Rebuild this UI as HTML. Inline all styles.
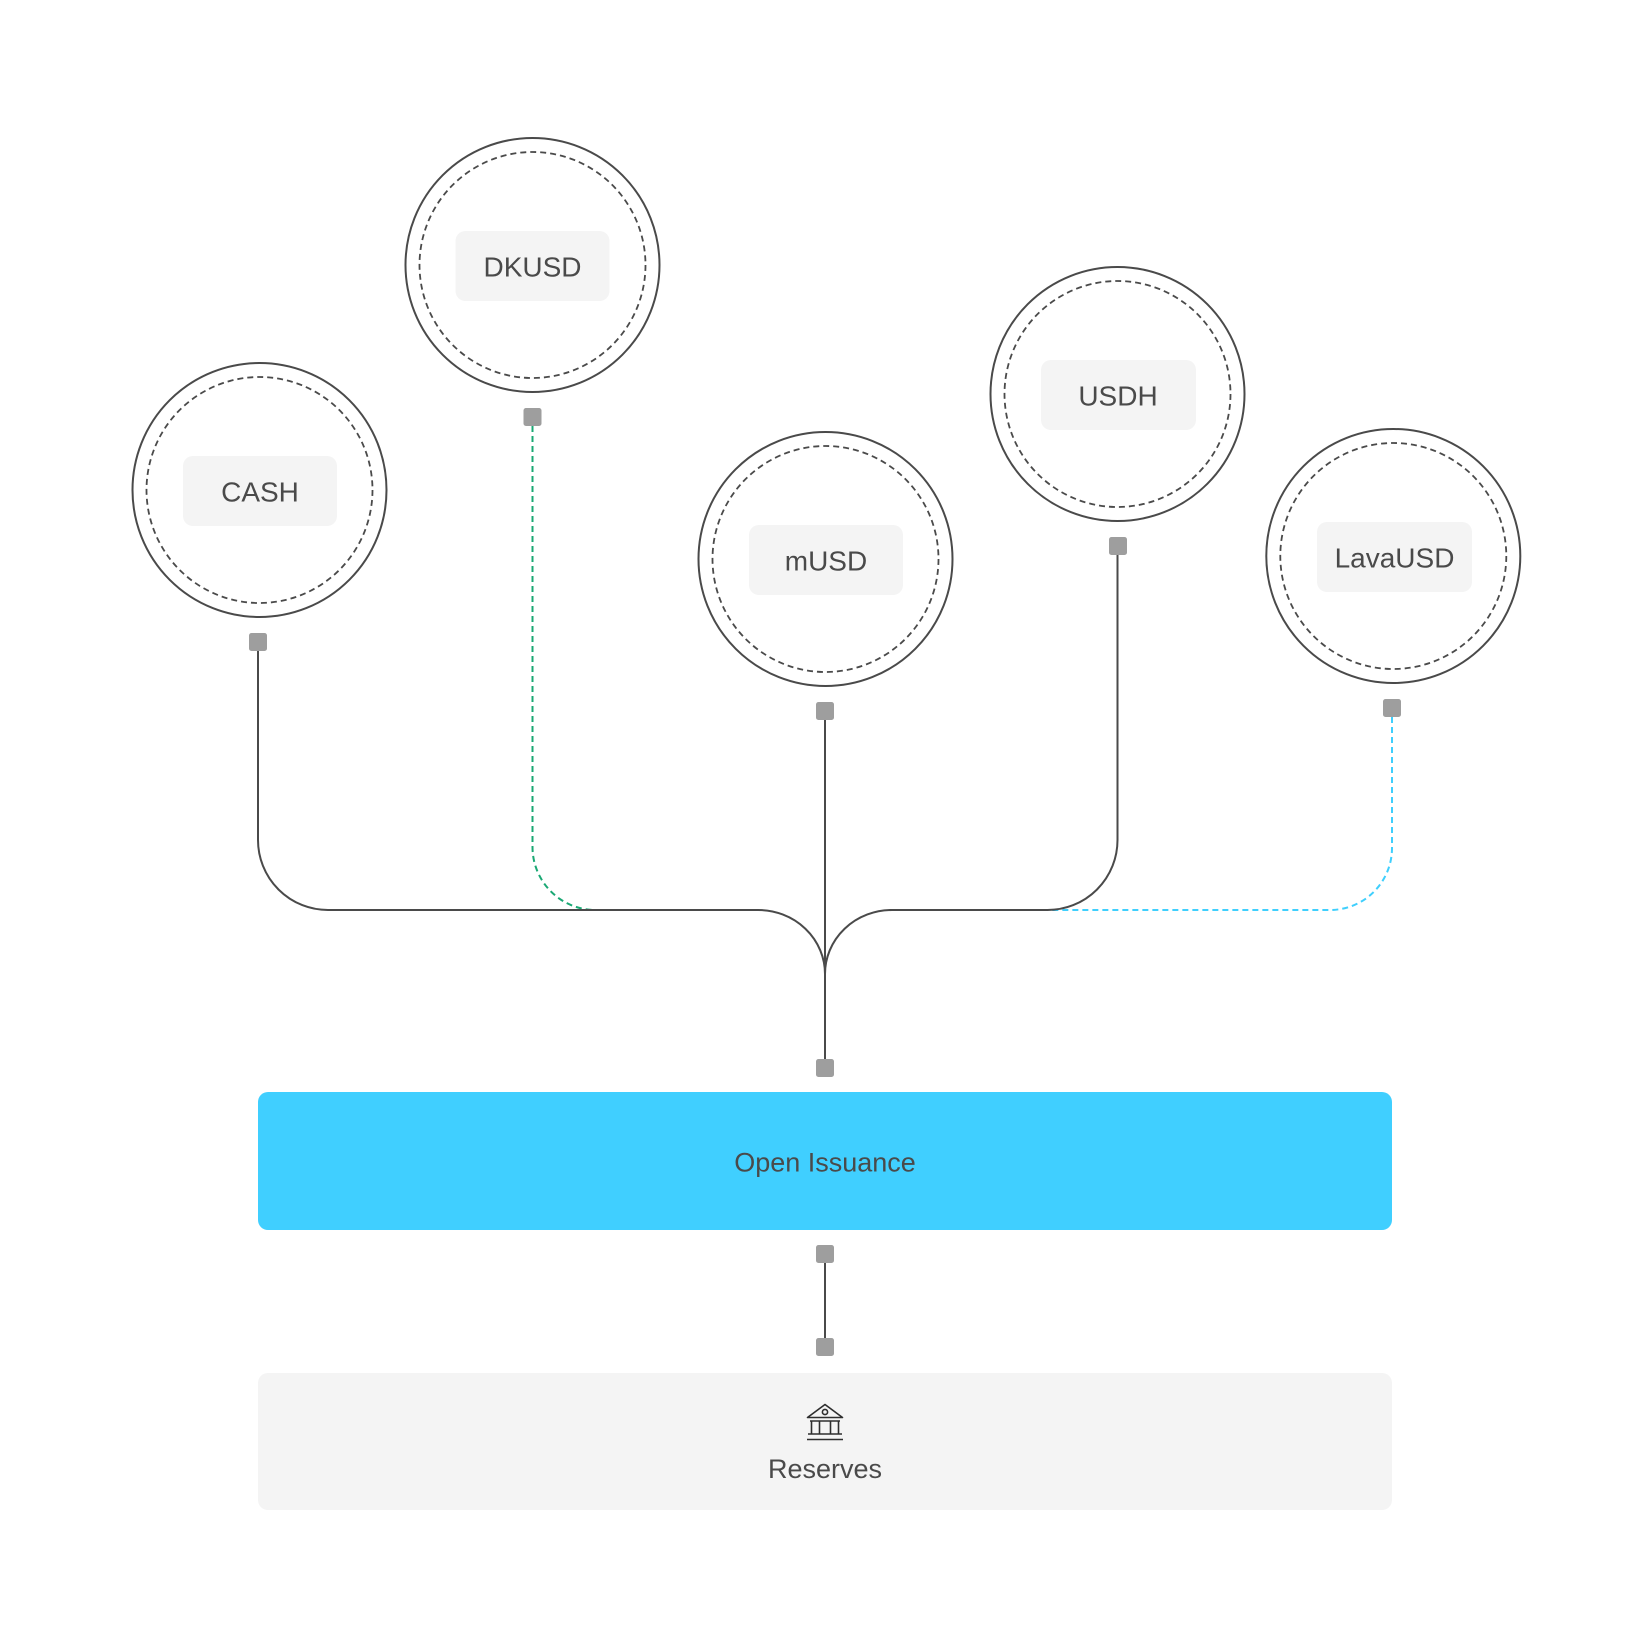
<!DOCTYPE html>
<html>
<head>
<meta charset="utf-8">
<style>
  html, body { margin: 0; padding: 0; background: #ffffff; }
  body { width: 1650px; height: 1650px; overflow: hidden; }
  svg { display: block; }
  text { font-family: "Liberation Sans", Arial, sans-serif; fill: #4a4a4a; }
</style>
</head>
<body>
<svg width="1650" height="1650" viewBox="0 0 1650 1650" xmlns="http://www.w3.org/2000/svg">
  <rect x="0" y="0" width="1650" height="1650" fill="#ffffff"/>

  <!-- Connectors -->
  <g fill="none" stroke-width="2">
    <!-- DKUSD green dashed -->
    <path d="M532.5 426 L532.5 847 A63 63 0 0 0 595.5 910" stroke="#1aa874" stroke-dasharray="6 4"/>
    <!-- LavaUSD blue dashed -->
    <path d="M1392 717 L1392 848 A62 62 0 0 1 1330 910 L1047 910" stroke="#3fcffd" stroke-dasharray="6 4"/>
    <!-- CASH -->
    <path d="M258 650 L258 840 A70 70 0 0 0 328 910 L758 910 A67 64 0 0 1 825 974" stroke="#4a4a4a"/>
    <!-- USDH -->
    <path d="M1117.5 554 L1117.5 840 A70 70 0 0 1 1047.5 910 L892 910 A67 64 0 0 0 825 974" stroke="#4a4a4a"/>
    <!-- mUSD center -->
    <path d="M825 719 L825 1060" stroke="#4a4a4a"/>
    <!-- between boxes -->
    <path d="M825 1262 L825 1340" stroke="#4a4a4a"/>
  </g>

  <!-- Nodes -->
  <g>
    <!-- CASH -->
    <circle cx="259.5" cy="490" r="127" fill="#ffffff" stroke="#4a4a4a" stroke-width="2"/>
    <circle cx="259.5" cy="490" r="113" fill="none" stroke="#4a4a4a" stroke-width="1.8" stroke-dasharray="6 4"/>
    <rect x="183" y="456" width="154" height="70" rx="10" fill="#f4f4f4"/>
    <text x="260" y="501.5" font-size="28" text-anchor="middle">CASH</text>

    <!-- DKUSD -->
    <circle cx="532.5" cy="265" r="127" fill="#ffffff" stroke="#4a4a4a" stroke-width="2"/>
    <circle cx="532.5" cy="265" r="113" fill="none" stroke="#4a4a4a" stroke-width="1.8" stroke-dasharray="6 4"/>
    <rect x="455.5" y="231" width="154" height="70" rx="10" fill="#f4f4f4"/>
    <text x="532.5" y="276.5" font-size="28" text-anchor="middle">DKUSD</text>

    <!-- mUSD -->
    <circle cx="825.5" cy="559" r="127" fill="#ffffff" stroke="#4a4a4a" stroke-width="2"/>
    <circle cx="825.5" cy="559" r="113" fill="none" stroke="#4a4a4a" stroke-width="1.8" stroke-dasharray="6 4"/>
    <rect x="749" y="525" width="154" height="70" rx="10" fill="#f4f4f4"/>
    <text x="826" y="570.5" font-size="28" text-anchor="middle">mUSD</text>

    <!-- USDH -->
    <circle cx="1117.5" cy="394" r="127" fill="#ffffff" stroke="#4a4a4a" stroke-width="2"/>
    <circle cx="1117.5" cy="394" r="113" fill="none" stroke="#4a4a4a" stroke-width="1.8" stroke-dasharray="6 4"/>
    <rect x="1041" y="360" width="155" height="70" rx="10" fill="#f4f4f4"/>
    <text x="1118" y="405.5" font-size="28" text-anchor="middle">USDH</text>

    <!-- LavaUSD -->
    <circle cx="1393.3" cy="556" r="127" fill="#ffffff" stroke="#4a4a4a" stroke-width="2"/>
    <circle cx="1393.3" cy="556" r="113" fill="none" stroke="#4a4a4a" stroke-width="1.8" stroke-dasharray="6 4"/>
    <rect x="1317" y="522" width="155" height="70" rx="10" fill="#f4f4f4"/>
    <text x="1394.5" y="567.5" font-size="28" text-anchor="middle">LavaUSD</text>
  </g>

  <!-- Connector squares -->
  <g fill="#9e9e9e">
    <rect x="249" y="633" width="18" height="18" rx="2.5"/>
    <rect x="523.5" y="408" width="18" height="18" rx="2.5"/>
    <rect x="816" y="702" width="18" height="18" rx="2.5"/>
    <rect x="1109" y="537" width="18" height="18" rx="2.5"/>
    <rect x="1383" y="699" width="18" height="18" rx="2.5"/>
    <rect x="816" y="1059" width="18" height="18" rx="2.5"/>
    <rect x="816" y="1245" width="18" height="18" rx="2.5"/>
    <rect x="816" y="1338" width="18" height="18" rx="2.5"/>
  </g>

  <!-- Open Issuance -->
  <rect x="258" y="1092" width="1134" height="138" rx="10" fill="#40cfff"/>
  <text x="825" y="1171.5" font-size="27" text-anchor="middle">Open Issuance</text>

  <!-- Reserves -->
  <rect x="258" y="1373" width="1134" height="137" rx="10" fill="#f4f4f4"/>
  <g fill="none" stroke="#2e2e2e" stroke-width="1.6" stroke-linejoin="round">
    <path d="M807.5 1417.5 L825 1404.5 L842.5 1417.5 Z"/>
    <circle cx="825" cy="1412" r="2.6"/>
    <line x1="810" y1="1421" x2="840" y2="1421"/>
    <line x1="811.5" y1="1421" x2="811.5" y2="1434"/>
    <line x1="819.5" y1="1421" x2="819.5" y2="1434"/>
    <line x1="830.5" y1="1421" x2="830.5" y2="1434"/>
    <line x1="838.5" y1="1421" x2="838.5" y2="1434"/>
    <line x1="808" y1="1434" x2="842" y2="1434"/>
    <line x1="807" y1="1439.5" x2="843" y2="1439.5"/>
  </g>
  <text x="825" y="1478" font-size="27" text-anchor="middle">Reserves</text>
</svg>
</body>
</html>
